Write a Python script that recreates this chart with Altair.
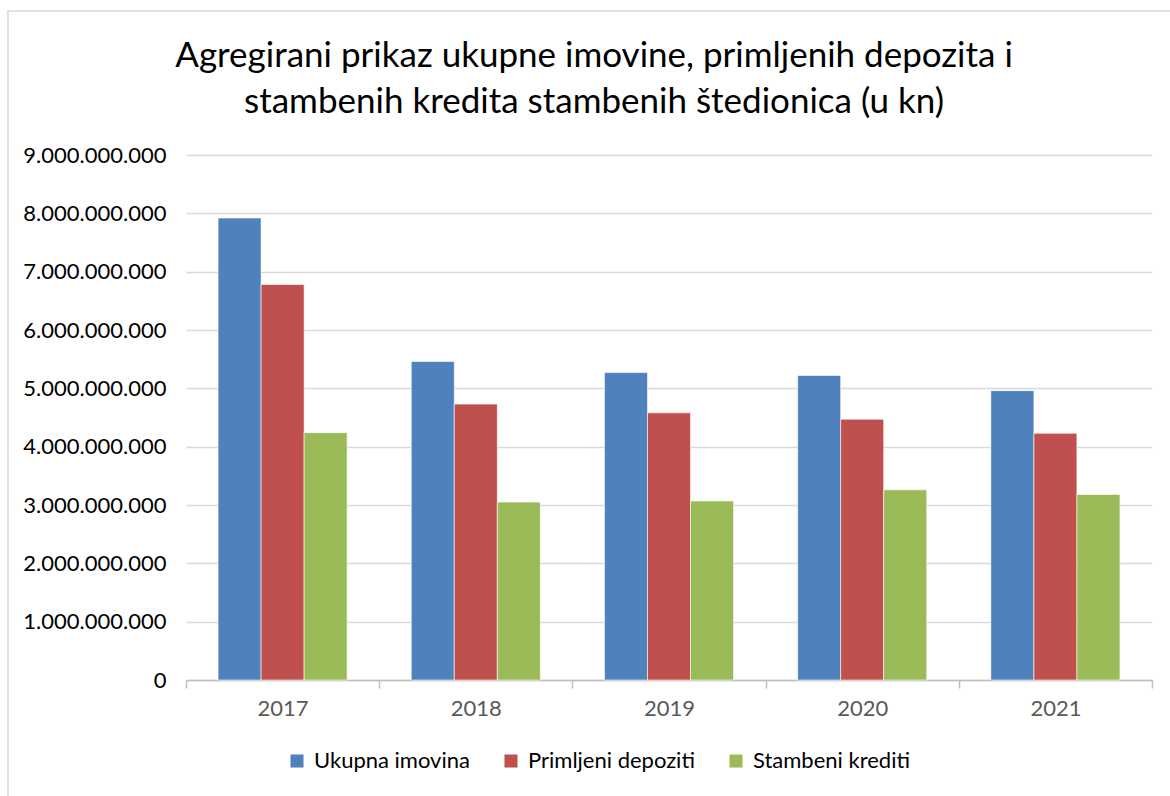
import altair as alt
import pandas as pd

years = ["2017", "2018", "2019", "2020", "2021"]
series = ["Ukupna imovina", "Primljeni depoziti", "Stambeni krediti"]
ukupna_imovina = [7.92e9, 5.46e9, 5.27e9, 5.22e9, 4.96e9]
primljeni_depoziti = [6.78e9, 4.73e9, 4.58e9, 4.47e9, 4.23e9]
stambeni_krediti = [4.24e9, 3.05e9, 3.07e9, 3.26e9, 3.18e9]
colors = ["#4F81BD", "#C0504D", "#9BBB59"]

rows = []
for name, vals in zip(series, [ukupna_imovina, primljeni_depoziti, stambeni_krediti]):
    for y, v in zip(years, vals):
        rows.append({"Godina": y, "Serija": name, "Iznos": v})
df = pd.DataFrame(rows)

FONT = "Lato"
LBL = 22

bars = alt.Chart(df).mark_bar(stroke="white", strokeWidth=0.6).encode(
    x=alt.X("Godina:N", sort=years, title=None,
            scale=alt.Scale(paddingInner=0, paddingOuter=0),
            axis=alt.Axis(labelAngle=0, labelFontSize=LBL, labelColor="#595959",
                          labelFont=FONT, labelPadding=10, tickBand="extent",
                          domainColor="#BFBFBF", tickColor="#BFBFBF", tickSize=8,
                          domainWidth=1.5, tickWidth=1.5, grid=False)),
    xOffset=alt.XOffset("Serija:N", sort=series,
                        scale=alt.Scale(paddingInner=0, paddingOuter=0.745)),
    y=alt.Y("Iznos:Q", title=None,
            scale=alt.Scale(domain=[0, 9e9], nice=False),
            axis=alt.Axis(values=[i * 1e9 for i in range(10)],
                          labelExpr="replace(format(datum.value, ','), /,/g, '.')",
                          labelFontSize=LBL, labelColor="#000000", labelFont=FONT,
                          labelPadding=20, domain=False, ticks=False,
                          gridColor="#D9D9D9", gridWidth=1.5)),
    color=alt.Color("Serija:N", sort=series,
                    scale=alt.Scale(domain=series, range=colors),
                    legend=alt.Legend(title=None, orient="none", direction="horizontal",
                                      legendX=100, legendY=595, columns=3,
                                      symbolType="square", symbolSize=170,
                                      symbolStrokeWidth=0, labelFontSize=LBL,
                                      labelFont=FONT, labelColor="#000000",
                                      labelLimit=400,
                                      labelOffset=6, columnPadding=30)),
)

border = alt.Chart(pd.DataFrame({"a": [0]})).mark_rect(
    fill=None, stroke="#D9D9D9", strokeWidth=1.5
).encode(
    x=alt.value(-178), x2=alt.value(1000),
    y=alt.value(-144), y2=alt.value(660),
)

chart = alt.layer(border, bars).properties(
    width=966, height=525,
    autosize=alt.AutoSizeParams(type="none"),
    padding={"left": 186, "top": 155, "right": 18, "bottom": 116},
    title=alt.TitleParams(
        ["Agregirani prikaz ukupne imovine, primljenih depozita i",
         "stambenih kredita stambenih štedionica (u kn)"],
        fontSize=35, font=FONT, fontWeight="normal", color="#000000",
        anchor="middle", dx=-75, offset=-110, lineHeight=46,
    ),
).configure_view(stroke=None)

chart.save("out.html", embed_options={"renderer": "svg", "actions": False})
